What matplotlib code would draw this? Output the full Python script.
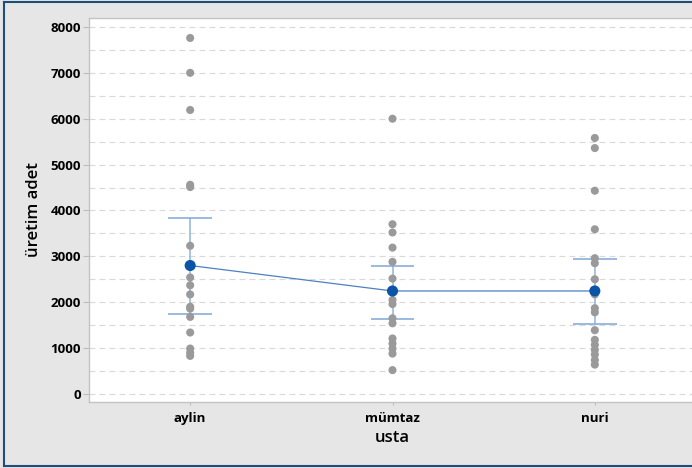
import numpy as np
import matplotlib
matplotlib.use("Agg")
import matplotlib.pyplot as plt
from matplotlib.ticker import MultipleLocator
from matplotlib.lines import Line2D

plt.rcParams["font.family"] = ["Open Sans", "DejaVu Sans"]
plt.rcParams["lines.scale_dashes"] = False

categories = ["aylin", "mümtaz", "nuri"]
aylin = [7760, 7000, 6190, 4560, 4510, 3230, 2540, 2370, 2170, 1900, 1860, 1680, 1340, 990, 900, 830]
mumtaz = [6000, 3700, 3520, 3190, 2880, 2515, 2050, 1960, 1650, 1540, 1210, 1100, 990, 880, 520]
nuri = [5580, 5360, 4430, 3590, 2960, 2850, 2500, 2170, 1870, 1780, 1390, 1180, 1070, 960, 860, 740, 640]
means = [2800, 2245, 2245]
ci_low = [1750, 1635, 1520]
ci_high = [3845, 2800, 2940]

bg = "#e6e6e6"
fig = plt.figure(figsize=(6.92, 4.68), dpi=100, facecolor=bg)
ax = fig.add_axes([89 / 692, 1 - 402 / 468, 607 / 692, 384 / 468])
ax.set_facecolor("white")

x = np.arange(1, len(categories) + 1)
for xi, vals in zip(x, [aylin, mumtaz, nuri]):
    ax.scatter([xi] * len(vals), vals, s=34, color="#9a9a9a", edgecolors="none", zorder=3)

ax.vlines(x, ci_low, ci_high, color="#8fb3de", lw=1.1, zorder=2)
ax.hlines(ci_low, x - 0.108, x + 0.108, color="#7fa7d8", lw=1.1, zorder=2)
ax.hlines(ci_high, x - 0.108, x + 0.108, color="#7fa7d8", lw=1.1, zorder=2)
ax.plot(x, means, color="#4f80c0", lw=0.9, zorder=2)
ax.scatter(x, means, s=64, color="#0a55a6", edgecolors="none", zorder=4)

ax.set_xlim(0.5, 3.5)
ax.set_ylim(-175, 8195)
ax.set_xticks(x)
ax.set_xticklabels(categories)
ax.yaxis.set_major_locator(MultipleLocator(1000))
ax.yaxis.set_minor_locator(MultipleLocator(500))
ax.grid(True, which="both", axis="y", color="#d9d9d9", lw=0.8, linestyle=(0, (4.3, 2.9)))
ax.set_axisbelow(True)

for s in ax.spines.values():
    s.set_color("#c3c3c3")
    s.set_linewidth(1.0)

ax.tick_params(axis="y", which="major", length=4.3, width=0.8, color="#bdbdbd", pad=1.5,
               labelsize=9.5, labelcolor="black")
ax.tick_params(axis="y", which="minor", length=0)
ax.tick_params(axis="x", length=2.5, width=0.8, color="#bdbdbd", pad=5, labelsize=9.5, labelcolor="black")
for lab in ax.get_xticklabels() + ax.get_yticklabels():
    lab.set_fontweight("bold")

ax.set_xlabel("usta", fontsize=12, fontweight="semibold", color="black", labelpad=3)
ax.set_ylabel("üretim adet", fontsize=12, fontweight="semibold", color="black", labelpad=6)

# frame around the figure: left, top, bottom (right side is cut off)
bx0, by0, by1 = 3.5 / 692, 2 / 468, 1 - 1.5 / 468
for xs, ys in [([bx0, bx0], [by0, by1]), ([bx0, 1.05], [by1, by1]), ([bx0, 1.05], [by0, by0])]:
    fig.add_artist(Line2D(xs, ys, transform=fig.transFigure, color="#1f4e79", lw=1.5))

fig.savefig("out.png", dpi=100, facecolor=bg)
